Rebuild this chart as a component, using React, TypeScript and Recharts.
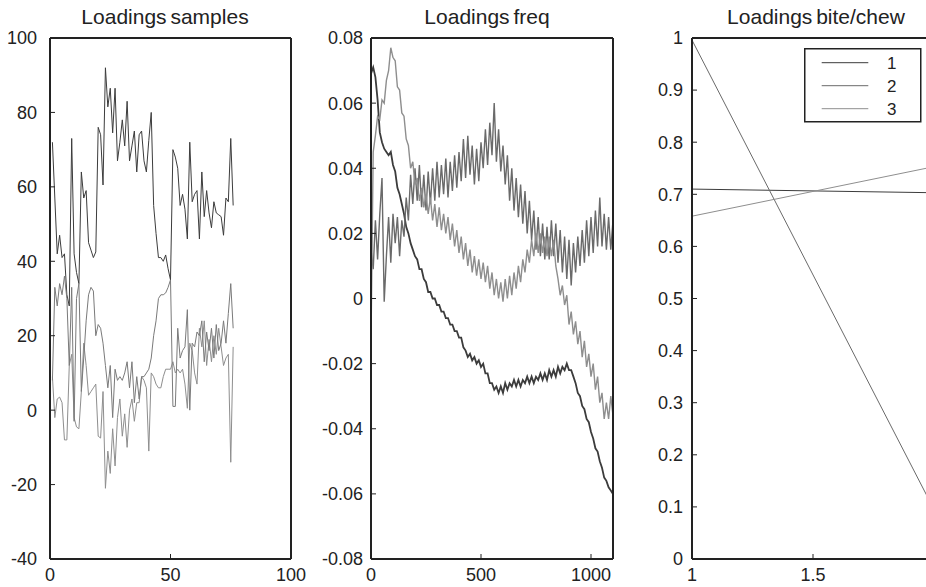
import React from 'react'
import { LineChart, Line, XAxis, YAxis } from 'recharts'

// Loadings samples: three components over 76 samples
const SAMPLE_A = [
  72, 57, 42, 47, 41, 42, 31, 28, 73, 42,
  37, 34, 64, 57, 59, 45, 43, 41, 42.5, 76,
  74, 60.5, 92, 81.5, 86.5, 74.5, 86.5, 67, 72, 78,
  71, 83, 67, 71, 75, 64, 74, 75, 67, 64,
  72.5, 80, 55, 47.5, 41, 41, 40, 41.7, 38, 35,
  70, 68, 65, 55, 58, 54, 46, 72, 56, 58,
  59, 46, 64, 52, 59, 53, 49, 56, 53, 52.5,
  52, 47, 57, 56, 73, 55,
]
const SAMPLE_B = [
  9, -2, 3, 3.5, 2, -8, -8, 12, 15, -2,
  -4.5, -5, 5, 18, 12, 4, 5, 6, 7, -7,
  -7.5, 5, -21, -11, -17, -5, -15, -2, 3, -7,
  -1, -10, 0, 3, -3, 2, 2, 9, 8, 6,
  -11, 10, 9, 7, 6, 6, 9, 11, 11, 11,
  13, 10, 11, 10, 11, 7, 0.5, 18, 16, 10,
  7, 22, 17, 24, 12, 19, 13, 20, 15, 22,
  17, 12, 14, 15, -14, 17,
]
const SAMPLE_C = [
  8, 33, 28, 34, 31, 36, 30, 12, 33, -3,
  30, 34, 5, 14, 24, 31, 33, 32, 20, 23,
  22, 18, 12, 6, 12, -2, 11, 8, 9, 8,
  10, 13, 6, 13, 2, 9, 3, 9, 9, 10,
  11, 14, 20, 24, 30, 31, 31, 31.5, 33, 35,
  1, 1, 22, 14, 16, 17, 27, 0, 18, 17,
  21, 20, 24, 13, 21, 16, 22, 14, 23, 16,
  18, 24, 18, 26, 34, 22,
]

// Loadings freq: read every 10 frequency bins, 0..1100
const FREQ_STEP = 10
const FREQ_D1 = [
  0.069, 0.071, 0.068, 0.061, 0.051, 0.048, 0.046, 0.045, 0.044, 0.045,
  0.041, 0.039, 0.034, 0.032, 0.029, 0.026, 0.022, 0.020, 0.017, 0.015,
  0.013, 0.012, 0.009, 0.009, 0.006, 0.005, 0.002, 0.002, 0.000, 0.000,
  -0.002, -0.002, -0.004, -0.004, -0.006, -0.006, -0.008, -0.008, -0.010, -0.010,
  -0.012, -0.012, -0.015, -0.016, -0.018, -0.017, -0.019, -0.018, -0.020, -0.019,
  -0.021, -0.020, -0.023, -0.023, -0.026, -0.026, -0.028, -0.027, -0.029, -0.027,
  -0.029, -0.026, -0.028, -0.026, -0.027, -0.025, -0.027, -0.025, -0.027, -0.025,
  -0.026, -0.024, -0.026, -0.024, -0.026, -0.024, -0.025, -0.023, -0.025, -0.023,
  -0.025, -0.022, -0.024, -0.022, -0.024, -0.021, -0.023, -0.021, -0.022, -0.020,
  -0.022, -0.022, -0.024, -0.026, -0.029, -0.030, -0.033, -0.034, -0.037, -0.038,
  -0.041, -0.043, -0.046, -0.047, -0.050, -0.052, -0.055, -0.056, -0.058, -0.059,
  -0.060,
]
const FREQ_D2 = [
  0.015, 0.009, 0.024, 0.012, 0.026, 0.037, -0.001, 0.013, 0.025, 0.011,
  0.026, 0.017, 0.025, 0.013, 0.024, 0.019, 0.031, 0.024, 0.038, 0.029,
  0.040, 0.030, 0.041, 0.028, 0.038, 0.027, 0.039, 0.029, 0.040, 0.030,
  0.042, 0.031, 0.041, 0.032, 0.043, 0.031, 0.042, 0.033, 0.044, 0.034,
  0.045, 0.036, 0.049, 0.037, 0.050, 0.038, 0.047, 0.035, 0.046, 0.036,
  0.048, 0.040, 0.052, 0.041, 0.054, 0.044, 0.060, 0.042, 0.052, 0.039,
  0.047, 0.035, 0.044, 0.030, 0.040, 0.027, 0.037, 0.025, 0.035, 0.023,
  0.033, 0.020, 0.030, 0.018, 0.027, 0.015, 0.025, 0.013, 0.023, 0.012,
  0.022, 0.012, 0.024, 0.013, 0.023, 0.011, 0.021, 0.008, 0.019, 0.006,
  0.018, 0.004, 0.017, 0.008, 0.019, 0.010, 0.021, 0.011, 0.024, 0.013,
  0.025, 0.014, 0.027, 0.016, 0.031, 0.016, 0.026, 0.015, 0.025, 0.015,
  0.024,
]
const FREQ_D3 = [
  -0.013, 0.045, 0.050, 0.056, 0.055, 0.061, 0.060, 0.067, 0.070, 0.077,
  0.074, 0.073, 0.065, 0.064, 0.057, 0.056, 0.049, 0.047, 0.040, 0.042,
  0.035, 0.037, 0.030, 0.034, 0.028, 0.032, 0.026, 0.031, 0.024, 0.029,
  0.022, 0.028, 0.021, 0.026, 0.020, 0.025, 0.018, 0.023, 0.016, 0.021,
  0.014, 0.019, 0.012, 0.017, 0.010, 0.015, 0.008, 0.013, 0.007, 0.012,
  0.006, 0.011, 0.005, 0.010, 0.003, 0.008, 0.001, 0.006, 0.000, 0.005,
  -0.001, 0.006, 0.000, 0.007, 0.001, 0.008, 0.003, 0.010, 0.005, 0.012,
  0.008, 0.015, 0.011, 0.018, 0.013, 0.020, 0.014, 0.020, 0.014, 0.019,
  0.013, 0.019, 0.013, 0.018, 0.010, 0.006, 0.001, 0.004, -0.002, 0.001,
  -0.008, -0.004, -0.011, -0.007, -0.014, -0.010, -0.018, -0.013, -0.021, -0.017,
  -0.024, -0.020, -0.028, -0.024, -0.032, -0.029, -0.037, -0.032, -0.037, -0.030,
  -0.036,
]

// Loadings bite/chew
const BITE_X = [1, 2]
const BITE_1 = [0.71, 0.703]
const BITE_2 = [0.996, 0.095]
const BITE_3 = [0.658, 0.753]

const SAMPLE_X_TICKS = [0, 50, 100]
const SAMPLE_Y_TICKS = [-40, -20, 0, 20, 40, 60, 80, 100]
const FREQ_X_TICKS = [0, 500, 1000]
const FREQ_Y_TICKS = [-0.08, -0.06, -0.04, -0.02, 0, 0.02, 0.04, 0.06, 0.08]
const BITE_X_TICKS = [1, 1.5]
const BITE_Y_TICKS = [0, 0.1, 0.2, 0.3, 0.4, 0.5, 0.6, 0.7, 0.8, 0.9, 1]

const sampleData = SAMPLE_A.map((a, i) => ({ x: i + 1, a, b: SAMPLE_B[i], c: SAMPLE_C[i] }))
const freqData = FREQ_D1.map((d1, i) => ({ x: i * FREQ_STEP, d1, d2: FREQ_D2[i], d3: FREQ_D3[i] }))
const biteData = BITE_X.map((x, i) => ({ x, s1: BITE_1[i], s2: BITE_2[i], s3: BITE_3[i] }))

const INK = '#222'
const DARK = '#3c3c3c'
const MID = '#6a6a6a'
const LIGHT = '#8e8e8e'

type Series = { key: string; color: string; width?: number }

interface PanelProps {
  left: number
  plotWidth: number
  data: any[]
  xDomain: [number, number]
  xTicks: number[]
  yDomain: [number, number]
  yTicks: number[]
  labelGap: number
  series: Series[]
}

// chart is 30px wider than the plot box so the last x label is not clipped
function Panel({ left, plotWidth, data, xDomain, xTicks, yDomain, yTicks, labelGap, series }: PanelProps) {
  const axisLine = { stroke: INK, strokeWidth: 2 }
  const tickLine = { stroke: INK, strokeWidth: 1 }
  const tickFont = { fontSize: 18, fill: INK }
  const width = 50 + plotWidth + 30
  return (
    <div style={{ position: 'absolute', left, top: 0 }}>
      <LineChart width={width} height={587} data={data} margin={{ top: 37, right: 29, bottom: 0, left: 0 }}>
        <XAxis xAxisId="b" dataKey="x" type="number" domain={xDomain} ticks={xTicks} interval={0}
          allowDataOverflow height={28} axisLine={axisLine} tickLine={tickLine}
          tickSize={-5} tickMargin={14} tick={tickFont} />
        {/* mirrored top edge with inward ticks */}
        <XAxis xAxisId="t" orientation="top" dataKey="x" type="number" domain={xDomain} ticks={xTicks}
          interval={0} allowDataOverflow height={1} axisLine={axisLine} tickLine={tickLine}
          tickSize={-5} tick={false} />
        <YAxis yAxisId="l" type="number" domain={yDomain} ticks={yTicks} interval={0}
          allowDataOverflow width={50} axisLine={axisLine} tickLine={tickLine}
          tickSize={-5} tickMargin={labelGap + 5} tick={tickFont} />
        <YAxis yAxisId="r" orientation="right" type="number" domain={yDomain} ticks={yTicks}
          interval={0} allowDataOverflow width={1} axisLine={axisLine} tickLine={tickLine}
          tickSize={-5} tick={false} />
        {series.map(s => (
          <Line key={s.key} xAxisId="b" yAxisId="l" type="linear" dataKey={s.key}
            stroke={s.color} strokeWidth={s.width ?? 1} dot={false} activeDot={false}
            isAnimationActive={false} />
        ))}
      </LineChart>
    </div>
  )
}

function Title({ center, text }: { center: number; text: string }) {
  return (
    <div style={{
      position: 'absolute', left: center - 150, top: 5.5, width: 300, textAlign: 'center',
      fontSize: 21, lineHeight: '21px', color: INK, wordSpacing: -2,
    }}>
      {text}
    </div>
  )
}

const LEGEND = [
  { label: '1', color: DARK },
  { label: '2', color: MID },
  { label: '3', color: LIGHT },
]

function BiteLegend() {
  return (
    <svg style={{ position: 'absolute', left: 804, top: 48 }} width={118} height={76}>
      <rect x={0.75} y={0.75} width={116} height={73} fill="#fff" stroke={INK} strokeWidth={1.5} />
      {LEGEND.map((it, i) => {
        const cy = 14.7 + i * 23
        return (
          <g key={it.label}>
            <line x1={17.7} x2={64.3} y1={cy} y2={cy} stroke={it.color} strokeWidth={1} />
            <text x={87.7} y={cy + 6} fontSize={17} fill={INK} textAnchor="middle">{it.label}</text>
          </g>
        )
      })}
    </svg>
  )
}

export default function App() {
  return (
    <div style={{
      position: 'absolute', left: 0, top: 0, width: 926, height: 587, overflow: 'hidden',
      background: '#fff', fontFamily: '"Liberation Sans", Arial, sans-serif',
    }}>
      <Title center={165} text="Loadings samples" />
      <Title center={487} text="Loadings freq" />
      <Title center={816} text="Loadings bite/chew" />

      <Panel left={0} plotWidth={241} data={sampleData} xDomain={[0, 100]} xTicks={SAMPLE_X_TICKS}
        yDomain={[-40, 100]} yTicks={SAMPLE_Y_TICKS} labelGap={13}
        series={[{ key: 'a', color: DARK }, { key: 'b', color: LIGHT }, { key: 'c', color: '#7a7a7a' }]} />

      <Panel left={321} plotWidth={242} data={freqData} xDomain={[0, 1100]} xTicks={FREQ_X_TICKS}
        yDomain={[-0.08, 0.08]} yTicks={FREQ_Y_TICKS} labelGap={8}
        series={[
          { key: 'd1', color: DARK, width: 1.8 },
          { key: 'd2', color: MID, width: 1.4 },
          { key: 'd3', color: LIGHT, width: 1.4 },
        ]} />

      <Panel left={642} plotWidth={242} data={biteData} xDomain={[1, 2]} xTicks={BITE_X_TICKS}
        yDomain={[0, 1]} yTicks={BITE_Y_TICKS} labelGap={9}
        series={[{ key: 's1', color: DARK }, { key: 's2', color: MID }, { key: 's3', color: LIGHT }]} />

      <BiteLegend />
    </div>
  )
}
